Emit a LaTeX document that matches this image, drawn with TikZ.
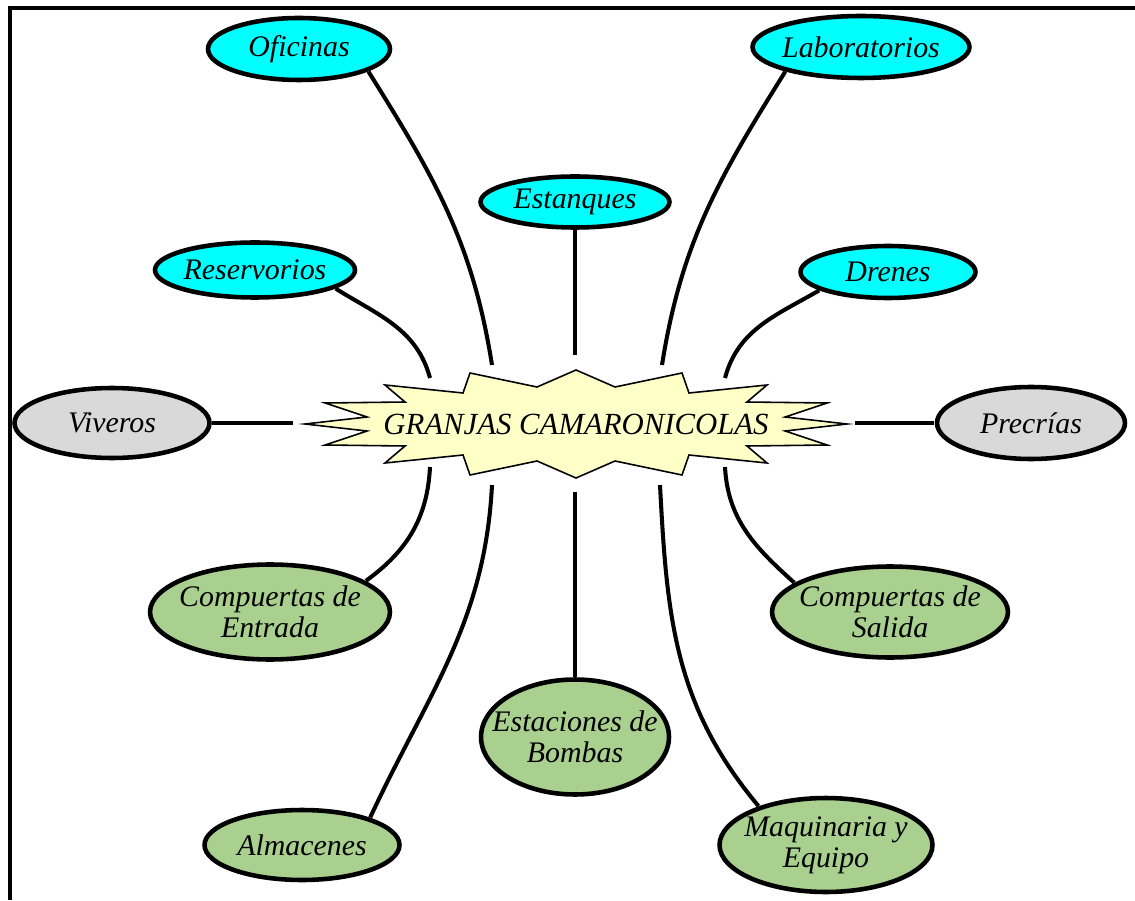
\documentclass[tikz,border=0pt]{standalone}
\usepackage{fontspec}
\setmainfont{Liberation Serif}
\usetikzlibrary{positioning,shapes.geometric}
\definecolor{bubblecyan}{RGB}{0,255,255}
\definecolor{bubblegrey}{RGB}{217,217,217}
\definecolor{bubblegreen}{RGB}{169,208,142}
\definecolor{staryellow}{RGB}{255,255,200}

\begin{document}
\begin{tikzpicture}[x=0.02cm,y=0.02cm,
  font=\itshape\fontsize{17}{17.5}\selectfont,
  bubble/.style={ellipse,draw,line width=2.6pt,inner sep=0pt,outer sep=1.5pt},
  upper/.style={bubble,fill=bubblecyan},
  side/.style={bubble,fill=bubblegrey},
  lower/.style={bubble,fill=bubblegreen},
  link/.style={line width=2.3pt}]
  \useasboundingbox (0,0) rectangle (1135,900);

  % Frame (top and left edges only)
  \draw[line width=2.3pt] (10,0) -- (10,892) -- (1135,892);

  % Star in the middle
  \begin{scope}[shift={(576,476)}]
    \draw[fill=staryellow,line width=0.9pt]
      (0,54) -- (39,37) -- (106,51) -- (113,31) -- (191,39) -- (171,22) -- (251,21) -- (209,7)
      -- (271,0) -- (209,-7) -- (251,-21) -- (171,-22) -- (191,-39) -- (113,-31) -- (106,-51) -- (39,-37)
      -- (0,-54) -- (-39,-37) -- (-106,-51) -- (-113,-31) -- (-191,-39) -- (-171,-22) -- (-251,-21) -- (-209,-7)
      -- (-271,0) -- (-209,7) -- (-251,21) -- (-171,22) -- (-191,39) -- (-113,31) -- (-106,51) -- (-39,37) -- cycle;
  \end{scope}
  \node (hub) at (576,476) {\fontsize{17.5}{18}\selectfont GRANJAS CAMARONICOLAS};

  % Upper bubbles
  \node[upper,minimum width=3.64cm,minimum height=1.24cm,label=center:Oficinas] (ofi) at (299,851) {};
  \node[upper,minimum width=4.34cm,minimum height=1.24cm,label=center:Laboratorios] (lab) at (861,853) {};
  \node[upper,minimum width=3.78cm,minimum height=1.02cm,label=center:Estanques] (est) at (575,698) {};
  \node[upper,minimum width=4.0cm,minimum height=1.1cm,label=center:Reservorios] (res) at (255,630) {};
  \node[upper,minimum width=3.5cm,minimum height=1.04cm,label=center:Drenes] (dre) at (888,628) {};

  % Side bubbles
  \node[side,minimum width=3.9cm,minimum height=1.4cm,label=center:Viveros] (viv) at (112,477) {};
  \node[side,minimum width=3.76cm,minimum height=1.44cm,label=center:Precrías] (pre) at (1031,477) {};

  % Lower bubbles
  \node[lower,minimum width=4.8cm,minimum height=1.9cm,
    label={[align=center]center:{Compuertas de\\Entrada}}] (cen) at (270,288) {};
  \node[lower,minimum width=4.72cm,minimum height=1.82cm,
    label={[align=center]center:{Compuertas de\\Salida}}] (csa) at (890,288) {};
  \node[lower,minimum width=3.76cm,minimum height=2.3cm,
    label={[align=center]center:{Estaciones de\\Bombas}}] (bom) at (575,163) {};
  \node[lower,minimum width=3.9cm,minimum height=1.4cm,label=center:Almacenes] (alm) at (302,55) {};
  \node[lower,minimum width=4.26cm,minimum height=1.88cm,
    label={[align=center]center:{Maquinaria y\\Equipo}}] (maq) at (826,55) {};

  % Loose ends round the star
  \coordinate (sOfi) at (492,535);
  \coordinate (sLab) at (662,535);
  \coordinate (sEst) at (575,545);
  \coordinate (sRes) at (430,522);
  \coordinate (sDre) at (725,522);
  \coordinate (sViv) at (293,477);
  \coordinate (sPre) at (855,477);
  \coordinate (sCen) at (430,433);
  \coordinate (sCsa) at (725,433);
  \coordinate (sBom) at (575,408);
  \coordinate (sAlm) at (492,415);
  \coordinate (sMaq) at (660,415);

  % Connectors
  \draw[link] (sOfi) to[out=99,in=-58] (ofi.-18);
  \draw[link] (sLab) to[out=81,in=-122] (lab.-162);
  \draw[link] (sEst) -- (est);
  \draw[link] (sRes) to[out=105,in=-32] (res.-13);
  \draw[link] (sDre) to[out=75,in=-150] (dre.-165);
  \draw[link] (sViv) -- (viv);
  \draw[link] (sPre) -- (pre);
  \draw[link] (sCen) to[out=-93,in=36] (cen.18);
  \draw[link] (sCsa) to[out=-87,in=138] (csa.163);
  \draw[link] (sBom) -- (bom);
  \draw[link] (sAlm) to[out=-93,in=65] (alm.22);
  \draw[link] (sMaq) to[out=-87,in=130] (maq.150);
\end{tikzpicture}
\end{document}
